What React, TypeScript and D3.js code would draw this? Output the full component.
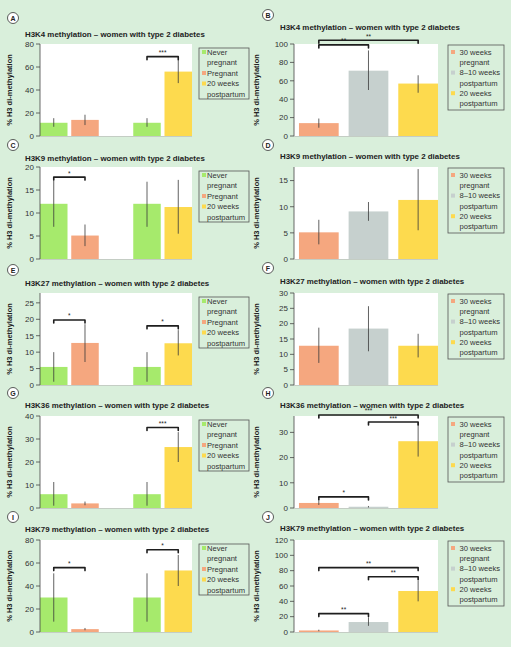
import React from "react";
import * as d3 from "d3";

// ---------- data ----------
const leftBars = ["Never pregnant", "Pregnant", "Never pregnant", "20 weeks postpartum"];
const leftGroups = [0, 0, 1, 1];
const rightBars = ["30 weeks pregnant", "8–10 weeks postpartum", "20 weeks postpartum"];

const leftLegend = [["Never", "pregnant"], ["Pregnant"], ["20 weeks", "postpartum"]];
const rightLegend = [["30 weeks", "pregnant"], ["8–10 weeks", "postpartum"], ["20 weeks", "postpartum"]];

const colorOf: Record<string, string> = {
  "Never pregnant": "#a6ea6c",
  "Pregnant": "#f5a77f",
  "20 weeks postpartum": "#fdda4e",
  "30 weeks pregnant": "#f5a77f",
  "8–10 weeks postpartum": "#c6d0ce",
};

const titles = [
  "H3K4 methylation – women with type 2 diabetes",
  "H3K9 methylation – women with type 2 diabetes",
  "H3K27 methylation – women with type 2 diabetes",
  "H3K36 methylation – women with type 2 diabetes",
  "H3K79 methylation – women with type 2 diabetes",
];
const letters = ["A", "B", "C", "D", "E", "F", "G", "H", "I", "J"];

const aValues = [11.5, 14, 11.5, 56];
const aErr = [[8, 15.5], [9.5, 18.5], [8, 15.5], [46, 66]];
const bValues = [14, 71, 57];
const bErr = [[9, 19], [50, 93], [47, 66]];
const cValues = [12, 5.1, 12, 11.3];
const cErr = [[7, 17], [2.8, 7.5], [7, 16.8], [5.5, 17.2]];
const dValues = [5.1, 9.1, 11.3];
const dErr = [[2.8, 7.5], [7.3, 10.9], [5.5, 17.2]];
const eValues = [5.5, 12.8, 5.5, 12.7];
const eErr = [[1, 10], [7, 18.5], [1, 10], [9, 16.7]];
const fValues = [12.8, 18.4, 12.8];
const fErr = [[7.2, 18.7], [11, 25.7], [9, 16.7]];
const gValues = [6, 2, 6, 26.5];
const gErr = [[1, 11.3], [1.2, 2.8], [1, 11.3], [20, 33]];
const hValues = [2, 0.5, 26.5];
const hErr = [[1.2, 2.8], [0.2, 0.8], [20.4, 34]];
const iValues = [30, 2.5, 30, 53.5];
const iErr = [[9, 51], [1.5, 3.5], [9, 51], [40, 67]];
const jValues = [2, 13, 53.5];
const jErr = [[1, 3], [8, 19], [40, 67]];

// brackets: [from bar, to bar, height value, label]
const aSig = [[2, 3, 69, "***"]];
const bSig = [[0, 1, 99, "**"], [0, 2, 104, "**"]];
const cSig = [[0, 1, 17.8, "*"]];
const dSig: any[] = [];
const eSig = [[0, 1, 19.8, "*"], [2, 3, 18, "*"]];
const fSig: any[] = [];
const gSig = [[2, 3, 35, "***"]];
const hSig = [[0, 1, 4.4, "*"], [1, 2, 34.1, "***"], [0, 2, 36.9, "***"]];
const iSig = [[0, 1, 56, "*"], [2, 3, 71.5, "*"]];
const jSig = [[0, 1, 24, "**"], [1, 2, 72, "**"], [0, 2, 84, "**"]];

const yMax = [80, 100, 20, 17.6, 28, 30, 40, 36.5, 80, 120];
const yTicks = [
  [0, 20, 40, 60, 80],
  [0, 20, 40, 60, 80, 100],
  [0, 5, 10, 15, 20],
  [0, 5, 10, 15],
  [0, 5, 10, 15, 20, 25],
  [0, 5, 10, 15, 20, 25, 30],
  [0, 10, 20, 30, 40],
  [0, 10, 20, 30],
  [0, 20, 40, 60, 80],
  [0, 20, 40, 60, 80, 100, 120],
];

// ---------- layout ----------
const zeroY = [136, 259, 385, 508, 632];
const plotH = 92;
const titleYLeft = [37, 161, 286, 408, 532];
const titleYRight = [30, 159, 284, 408, 531];
const circleYLeft = [18, 145, 270, 393, 517];
const circleYRight = [15, 145, 268, 393, 517];

const FONT = "'Liberation Sans', Arial, Helvetica, sans-serif";
const BG = "#d9efdb";

type Panel = {
  col: number;
  row: number;
  values: number[];
  err: number[][];
  sig: any[];
};

const panels: Panel[] = [
  { col: 0, row: 0, values: aValues, err: aErr, sig: aSig },
  { col: 1, row: 0, values: bValues, err: bErr, sig: bSig },
  { col: 0, row: 1, values: cValues, err: cErr, sig: cSig },
  { col: 1, row: 1, values: dValues, err: dErr, sig: dSig },
  { col: 0, row: 2, values: eValues, err: eErr, sig: eSig },
  { col: 1, row: 2, values: fValues, err: fErr, sig: fSig },
  { col: 0, row: 3, values: gValues, err: gErr, sig: gSig },
  { col: 1, row: 3, values: hValues, err: hErr, sig: hSig },
  { col: 0, row: 4, values: iValues, err: iErr, sig: iSig },
  { col: 1, row: 4, values: jValues, err: jErr, sig: jSig },
];

function PanelView({ p, idx }: { p: Panel; idx: number }) {
  const left = p.col === 0;
  const x0 = left ? 40 : 294;
  const x1 = left ? 192 : 438;
  const zero = zeroY[p.row];
  const top = zero - plotH;
  const y = d3.scaleLinear().domain([0, yMax[idx]]).range([zero, top]);

  let barX: number[] = [];
  let bw = 0;
  let names: string[];
  if (left) {
    names = leftBars;
    const g = d3.scaleBand<number>().domain([0, 1]).range([x0, x1]).paddingInner(0.37).paddingOuter(0);
    const inner = d3.scaleBand<number>().domain([0, 1]).range([0, g.bandwidth()]).paddingInner(0.12);
    bw = inner.bandwidth();
    barX = leftBars.map((_, i) => (g(leftGroups[i]) as number) + (inner(i % 2) as number));
  } else {
    names = rightBars;
    const b = d3.scaleBand<number>().domain([0, 1, 2]).range([x0, x1]).paddingInner(0.2).paddingOuter(0.05).align(1);
    bw = b.bandwidth();
    barX = rightBars.map((_, i) => b(i) as number);
  }
  const cx = (i: number) => barX[i] + bw / 2;

  const titleX = left ? 25 : 280;
  const titleY = left ? titleYLeft[p.row] : titleYRight[p.row];
  const circX = left ? 13 : 268;
  const circY = left ? circleYLeft[p.row] : circleYRight[p.row];
  const labX = left ? 12 : 259;

  const legend = left ? leftLegend : rightLegend;
  const legendKeys = left ? ["Never pregnant", "Pregnant", "20 weeks postpartum"] : rightBars;
  const lgX = left ? 199 : 448;
  const lgW = left ? 50 : 56;
  const lgTop = left ? zero - 88 : zero - 91;
  const lgH = left ? 51 : 65;
  const lineH = left ? 10.5 : 10.3;
  const firstLine = left ? 4 : 7;

  let lines: { text: string; key?: string }[] = [];
  legend.forEach((ls, k) => ls.forEach((t, j) => lines.push({ text: t, key: j === 0 ? legendKeys[k] : undefined })));

  return (
    <g>
      <circle cx={circX} cy={circY} r={5.5} fill="#fff" stroke="#333" strokeWidth={0.8} />
      <text x={circX} y={circY + 2.5} textAnchor="middle" fontSize={7} fontWeight="bold" fill="#222">
        {letters[idx]}
      </text>
      <text x={titleX} y={titleY} fontSize={7.9} fontWeight="bold" fill="#222">
        {titles[p.row]}
      </text>
      <rect x={x0} y={top} width={x1 - x0} height={plotH} fill="#fff" />
      {p.values.map((v, i) => (
        <rect key={i} x={barX[i]} y={y(v)} width={bw} height={zero - y(v)} fill={colorOf[names[i]]} />
      ))}
      {p.err.map((e, i) => (
        <line key={i} x1={cx(i)} x2={cx(i)} y1={y(e[0])} y2={y(e[1])} stroke="#3a3a3a" strokeWidth={0.8} />
      ))}
      {p.sig.map((s, k) => {
        const yy = y(s[2]);
        const xa = cx(s[0]);
        const xb = cx(s[1]);
        return (
          <g key={k}>
            <path
              d={`M${xa},${yy + 3}L${xa},${yy}L${xb},${yy}L${xb},${yy + 3}`}
              fill="none"
              stroke="#1e1e1e"
              strokeWidth={1.6}
              strokeLinejoin="round"
              strokeLinecap="round"
            />
            <text x={(xa + xb) / 2} y={yy - 1.5} textAnchor="middle" fontSize={6.5} fill="#222">
              {s[3]}
            </text>
          </g>
        );
      })}
      <line x1={x0} x2={x1} y1={zero + 0.5} y2={zero + 0.5} stroke="#b5b5b5" strokeWidth={0.6} />
      <line x1={x0} x2={x0} y1={top} y2={zero} stroke="#444" strokeWidth={0.8} />
      {yTicks[idx].map((t) => (
        <g key={t}>
          <line x1={x0 - 4} x2={x0} y1={y(t)} y2={y(t)} stroke="#444" strokeWidth={0.8} />
          <text x={x0 - 6} y={y(t) + 2.8} textAnchor="end" fontSize={8} fill="#333">
            {t}
          </text>
        </g>
      ))}
      <text
        transform={`translate(${labX},${(top + zero) / 2}) rotate(-90)`}
        textAnchor="middle"
        fontSize={7.5}
        fontWeight="bold"
        fill="#222"
      >
        % H3 di-methylation
      </text>
      <rect x={lgX} y={lgTop} width={lgW} height={lgH} fill="none" stroke="#555" strokeWidth={0.8} />
      {lines.map((l, k) => {
        const ly = lgTop + firstLine + lineH * k;
        return (
          <g key={k}>
            {l.key && <rect x={lgX + 3} y={ly - 2} width={4} height={4} fill={colorOf[l.key]} />}
            <text x={lgX + (left ? 8 : 11.5)} y={ly + 2.7} fontSize={7.6} fill="#333">
              {l.text}
            </text>
          </g>
        );
      })}
    </g>
  );
}

export default function App() {
  return (
    <svg
      width={511}
      height={647}
      viewBox="0 0 511 647"
      style={{ position: "absolute", left: 0, top: 0, fontFamily: FONT }}
    >
      <rect x={0} y={0} width={511} height={647} fill={BG} />
      {panels.map((p, i) => (
        <PanelView key={i} p={p} idx={i} />
      ))}
    </svg>
  );
}
